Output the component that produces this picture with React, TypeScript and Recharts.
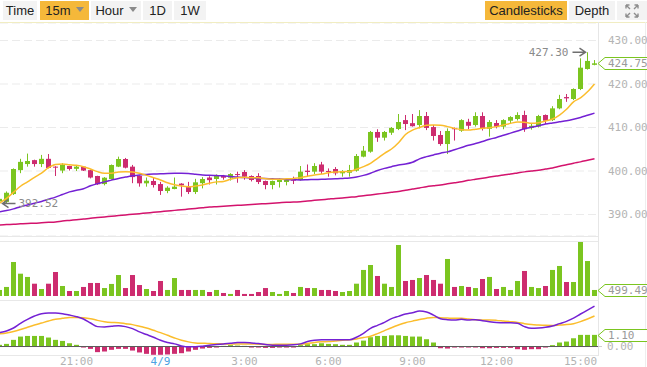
import React from 'react';
import {
  ComposedChart,
  Bar,
  Line,
  XAxis,
  YAxis,
  CartesianGrid,
  ReferenceLine,
  ReferenceDot,
} from 'recharts';

const GREEN = '#7bc520';
const RED = '#cd2c6f';
const FAST_COLOR = '#fbbd2c';
const MID_COLOR = '#7421d4';
const SLOW_COLOR = '#d3136d';
const MONO = '"DejaVu Sans Mono", monospace';

// 15m candles, 18:15 -> 15:30
const OPEN = [393.0, 392.9, 394.7, 400.2, 401.6, 402.5, 401.6, 402.8, 401.0, 400.1,
  401.15, 400.5, 401.0, 400.2, 398.85, 397.0, 398.16, 401.0, 402.76, 401.0,
  398.85, 397.17, 397.7, 397.0, 395.4, 395.86, 397.1, 396.3, 395.17, 397.2,
  398.5, 398.16, 398.85, 398.46, 399.3, 399.77, 398.85, 398.85, 397.7, 396.78,
  397.47, 397.47, 398.16, 397.93, 400.07, 399.85, 401.5, 400.0, 400.46, 399.47,
  399.6, 400.07, 403.3, 404.44, 408.97, 407.66, 408.8, 409.66, 411.7, 411.0,
  410.57, 412.64, 410.1, 408.28, 406.2, 409.9, 409.26, 411.3, 410.57, 412.64,
  409.7, 411.03, 410.2, 411.56, 411.95, 412.87, 409.9, 410.2, 412.87, 411.7,
  414.4, 417.0, 416.55, 418.85, 423.45, 424.4];
const HIGH = [394.2, 395.3, 400.6, 402.8, 404.0, 402.6, 403.7, 403.9, 401.1, 401.8,
  401.2, 401.3, 401.1, 400.3, 398.9, 398.6, 401.5, 403.3, 403.0, 401.4,
  399.0, 398.5, 398.46, 397.5, 396.5, 398.5, 397.2, 397.5, 398.2, 398.6,
  398.8, 399.2, 399.1, 399.5, 399.85, 400.2, 399.0, 399.5, 397.8, 397.8,
  398.3, 398.3, 398.7, 401.15, 401.5, 401.8, 402.1, 400.6, 400.9, 400.2,
  401.4, 403.9, 405.75, 409.2, 409.6, 409.2, 410.1, 413.1, 412.87, 413.1,
  414.0, 413.56, 410.57, 409.2, 409.8, 410.0, 411.9, 412.0, 413.5, 413.5,
  411.7, 411.7, 411.9, 412.6, 413.5, 413.86, 410.9, 412.9, 413.0, 414.9,
  417.5, 417.7, 419.0, 425.9, 427.3, 425.5];
const LOW = [392.52, 392.6, 394.5, 399.5, 401.0, 401.0, 400.9, 400.6, 398.85, 399.5,
  400.1, 400.0, 400.0, 398.3, 396.8, 396.7, 398.0, 400.9, 400.6, 397.2,
  396.4, 396.4, 396.2, 394.5, 394.9, 395.8, 394.1, 394.7, 394.7, 396.0,
  396.9, 396.9, 398.0, 397.8, 397.3, 398.0, 397.6, 397.0, 395.8, 395.8,
  396.2, 396.7, 397.0, 397.8, 398.85, 399.3, 399.3, 398.7, 399.0, 398.7,
  398.7, 399.85, 403.15, 404.2, 406.7, 407.0, 408.3, 409.4, 409.4, 410.2,
  409.8, 409.4, 407.0, 405.8, 403.9, 407.0, 409.0, 409.6, 410.2, 409.3,
  407.9, 409.8, 409.6, 410.8, 411.6, 409.0, 409.5, 410.0, 410.8, 411.5,
  414.2, 415.9, 416.3, 418.6, 423.3, 424.3];
const CLOSE = [393.6, 395.0, 400.46, 402.1, 402.3, 401.6, 402.8, 400.7, 400.9, 401.4,
  400.46, 401.0, 400.1, 398.5, 396.95, 398.46, 401.38, 402.76, 400.76, 398.6,
  397.17, 397.77, 396.78, 395.4, 396.16, 396.4, 396.7, 395.17, 397.4, 398.16,
  397.9, 398.85, 398.46, 399.3, 399.08, 398.7, 397.93, 397.47, 396.78, 397.7,
  398.16, 398.16, 397.77, 399.85, 399.77, 401.15, 399.85, 399.85, 399.47, 400.0,
  400.23, 403.45, 404.67, 408.97, 407.66, 408.97, 409.9, 411.26, 410.8, 410.3,
  412.64, 409.9, 408.05, 406.2, 409.2, 409.6, 411.7, 410.4, 412.64, 409.7,
  411.26, 410.2, 411.7, 412.4, 412.87, 409.6, 410.4, 412.64, 411.56, 414.4,
  416.55, 416.7, 418.85, 423.75, 425.3, 424.75];
const VOLUME = [500, 750, 2820, 1850, 1580, 1020, 580, 1020, 1990, 830,
  415, 415, 750, 1080, 1080, 660, 1000, 1740, 660, 1740,
  910, 580, 415, 1245, 500, 1490, 500, 500, 500, 500,
  330, 500, 250, 170, 500, 170, 170, 330, 660, 330,
  170, 415, 250, 750, 660, 660, 500, 500, 415, 330,
  415, 1020, 2160, 2570, 1660, 1020, 750, 4230, 1245, 1330,
  1490, 1740, 1330, 1020, 3070, 750, 830, 750, 660, 1410,
  1580, 580, 750, 500, 1245, 2075, 750, 660, 830, 2160,
  2490, 1160, 1160, 4477.78, 2900, 499.49];
const MA_FAST = [392.6, 393.7, 395.1, 396.5, 397.5, 398.55, 399.5, 400.77, 401.5, 401.6,
  401.45, 401.3, 401.0, 400.46, 399.85, 399.5, 399.5, 399.77, 399.85, 399.77,
  399.47, 399.0, 398.46, 397.93, 397.3, 396.86, 396.55, 396.4, 396.55, 396.8,
  397.2, 397.5, 397.6, 398.1, 398.46, 398.55, 398.46, 398.46, 398.2, 398.1,
  398.1, 398.2, 398.3, 398.46, 398.8, 399.1, 399.3, 399.6, 399.77, 399.85,
  399.9, 400.4, 401.0, 401.76, 402.9, 404.07, 405.06, 406.5, 408.4, 409.4,
  410.0, 410.5, 410.57, 410.5, 410.2, 409.8, 409.5, 409.4, 409.6, 409.8,
  409.95, 410.2, 410.57, 410.95, 411.26, 411.2, 410.95, 411.1, 411.5, 411.95,
  412.87, 414.2, 415.9, 416.8, 418.2, 420.0];
const MA_MID = [390.6, 390.9, 391.3, 391.8, 392.2, 392.6, 393.0, 393.5, 394.0, 394.6,
  395.2, 395.6, 395.9, 396.6, 397.1, 397.5, 397.9, 398.3, 398.6, 398.9,
  399.1, 399.2, 399.3, 399.35, 399.45, 399.47, 399.47, 399.4, 399.25, 399.1,
  399.0, 398.95, 398.9, 398.75, 398.6, 398.5, 398.4, 398.3, 398.25, 398.2,
  398.15, 398.05, 398.0, 397.95, 398.0, 398.05, 398.1, 398.15, 398.2, 398.3,
  398.4, 398.6, 399.0, 399.5, 400.1, 400.6, 401.0, 401.4, 401.6, 402.0,
  402.8, 403.3, 403.7, 404.1, 404.4, 404.9, 405.4, 405.9, 406.3, 406.8,
  407.3, 407.7, 408.2, 408.7, 409.2, 409.7, 410.05, 410.4, 410.8, 411.05,
  411.3, 411.55, 411.9, 412.3, 412.8, 413.3];
const MA_SLOW = [387.6, 387.7, 387.75, 387.85, 387.95, 388.0, 388.1, 388.2, 388.3, 388.5,
  388.65, 388.8, 388.95, 389.15, 389.3, 389.45, 389.6, 389.75, 389.9, 390.05,
  390.2, 390.35, 390.5, 390.65, 390.8, 390.95, 391.1, 391.25, 391.4, 391.55,
  391.7, 391.8, 391.9, 392.0, 392.1, 392.2, 392.3, 392.4, 392.5, 392.6,
  392.7, 392.8, 392.85, 392.95, 393.1, 393.25, 393.4, 393.55, 393.7, 393.8,
  393.95, 394.1, 394.3, 394.5, 394.7, 394.9, 395.1, 395.3, 395.6, 395.85,
  396.1, 396.4, 396.6, 396.8, 397.05, 397.3, 397.55, 397.85, 398.1, 398.35,
  398.6, 398.85, 399.1, 399.3, 399.55, 399.8, 400.0, 400.2, 400.45, 400.7,
  401.1, 401.45, 401.8, 402.1, 402.45, 402.8];
const DIF = [1.31, 1.47, 1.75, 2.19, 2.57, 2.88, 3.10, 3.16, 3.16, 3.10,
  2.97, 2.82, 2.60, 2.22, 1.88, 1.85, 1.91, 1.97, 1.88, 1.69,
  1.38, 1.13, 0.88, 0.59, 0.38, 0.25, 0.06, -0.03, -0.03, 0.03,
  0.13, 0.19, 0.25, 0.31, 0.38, 0.38, 0.34, 0.28, 0.19, 0.13,
  0.13, 0.13, 0.16, 0.25, 0.47, 0.59, 0.63, 0.63, 0.63, 0.63,
  0.63, 0.88, 1.25, 1.72, 2.00, 2.28, 2.63, 2.85, 3.07, 3.19,
  3.35, 3.26, 2.97, 2.63, 2.54, 2.50, 2.57, 2.50, 2.54, 2.44,
  2.35, 2.28, 2.25, 2.25, 2.19, 1.88, 1.72, 1.75, 1.82, 1.94,
  2.16, 2.38, 2.69, 3.07, 3.44, 3.82];
const DEA = [1.19, 1.28, 1.41, 1.60, 1.82, 2.03, 2.22, 2.41, 2.57, 2.66,
  2.75, 2.75, 2.72, 2.63, 2.47, 2.35, 2.28, 2.25, 2.16, 2.07,
  1.91, 1.75, 1.53, 1.31, 1.06, 0.81, 0.59, 0.44, 0.34, 0.31,
  0.28, 0.27, 0.25, 0.25, 0.25, 0.25, 0.25, 0.22, 0.19, 0.19,
  0.22, 0.22, 0.22, 0.22, 0.28, 0.38, 0.44, 0.47, 0.53, 0.59,
  0.63, 0.72, 0.85, 0.97, 1.22, 1.50, 1.78, 2.03, 2.25, 2.40,
  2.55, 2.68, 2.75, 2.72, 2.69, 2.66, 2.66, 2.60, 2.54, 2.50,
  2.50, 2.47, 2.41, 2.35, 2.28, 2.16, 2.07, 2.03, 2.00, 1.99,
  2.03, 2.07, 2.16, 2.35, 2.60, 2.88];
const HIST = [0.16, 0.25, 0.63, 0.94, 1.00, 1.00, 1.00, 0.85, 0.63, 0.53,
  0.31, 0.16, -0.06, -0.22, -0.53, -0.47, -0.31, -0.22, -0.22, -0.38,
  -0.56, -0.69, -0.78, -0.78, -0.75, -0.69, -0.63, -0.47, -0.31, -0.19,
  -0.13, -0.06, 0.06, 0.13, 0.09, 0.06, -0.06, -0.09, -0.13, -0.13,
  -0.09, -0.09, -0.06, 0.13, 0.22, 0.22, 0.31, 0.25, 0.22, 0.16,
  0.16, 0.38, 0.56, 0.88, 1.00, 1.00, 1.06, 1.06, 1.00, 0.94,
  0.94, 0.69, 0.38, -0.16, -0.19, -0.09, -0.09, -0.06, -0.09, -0.16,
  -0.16, -0.13, -0.13, -0.13, -0.25, -0.31, -0.25, -0.25, -0.06, 0.13,
  0.38, 0.47, 0.78, 1.10, 1.10, 1.10];

const TIME_TICKS = [11, 23, 35, 47, 59, 71, 83];
const TIME_LABELS = ['21:00', '4/9', '3:00', '6:00', '9:00', '12:00', '15:00'];
const PRICE_TICKS = [390, 400, 410, 420, 430];
const PRICE_DOMAIN = [385.06, 434.02];
const VOL_MAX = 4477.78;
const MACD_DOMAIN = [-0.8, 4.3];
const X_DOMAIN = [0.5 / 7, 85.5];

const rows = OPEN.map((open, i) => ({
  i,
  open,
  high: HIGH[i],
  low: LOW[i],
  close: CLOSE[i],
  vol: VOLUME[i],
  fast: MA_FAST[i],
  mid: MA_MID[i],
  slow: MA_SLOW[i],
  dif: DIF[i],
  dea: DEA[i],
  hist: HIST[i],
}));

const last = rows[rows.length - 1];
const hiIdx = HIGH.indexOf(Math.max(...HIGH));
const loIdx = LOW.indexOf(Math.min(...LOW));

const snap = (c: number) => Math.round(c - 0.5) + 0.5;

const Candle = (p: any) => {
  const { x, y, width, height, payload } = p;
  if (!payload) return null;
  const { open, close, high, low } = payload;
  const color = close >= open ? GREEN : RED;
  const top = Math.min(y, y + height);
  const h = Math.abs(height);
  const ppu = high > low ? h / (high - low) : 0;
  const bTop = top + (high - Math.max(open, close)) * ppu;
  const bBot = top + (high - Math.min(open, close)) * ppu;
  const cx = snap(x + width / 2);
  return (
    <g>
      <line x1={cx} x2={cx} y1={top} y2={top + h} stroke={color} strokeWidth={1} />
      <rect x={cx - 2.5} y={bTop} width={5} height={Math.max(1, bBot - bTop)} fill={color} />
    </g>
  );
};

const VolBar = (p: any) => {
  const cx = snap(p.x + p.width / 2);
  const top = Math.min(p.y, p.y + p.height);
  const up = p.payload.close >= p.payload.open;
  return <rect x={cx - 2.5} y={top} width={5} height={Math.abs(p.height)} fill={up ? GREEN : RED} />;
};

const HistBar = (p: any) => {
  const cx = snap(p.x + p.width / 2);
  const top = Math.min(p.y, p.y + p.height);
  return (
    <rect x={cx - 2.5} y={top} width={5} height={Math.max(1, Math.abs(p.height))}
      fill={p.payload.hist >= 0 ? GREEN : RED} />
  );
};

const valueBox = (label: string) => (p: any) => {
  const edge = p.cx + 3.5;
  const cy = Math.round(p.cy) + 0.5;
  return (
    <g>
      <path d={`M${edge},${cy} L${edge + 7},${cy - 6} H${edge + 60} V${cy + 6} H${edge + 7} Z`}
        fill="#fff" stroke={GREEN} strokeWidth={1} />
      <text x={edge + 10} y={cy} dominantBaseline="central" fill="#9a9a9a" fontFamily={MONO} fontSize={11}>
        {label}
      </text>
    </g>
  );
};

const MinMark = (p: any) => {
  const x0 = p.cx + 3;
  const y = p.cy;
  return (
    <g>
      <path d={`M${x0 + 13},${y} H${x0} M${x0 + 6},${y - 4} L${x0},${y} L${x0 + 6},${y + 4}`}
        stroke="#6f6f6f" strokeWidth={1.5} fill="none" />
      <text x={x0 + 16} y={y} dominantBaseline="central" fill="#8a8a8a" fontFamily={MONO} fontSize={11}>
        {LOW[loIdx].toFixed(2)}
      </text>
    </g>
  );
};

const MaxMark = (p: any) => {
  const x0 = p.cx - 2;
  const y = p.cy;
  return (
    <g>
      <path d={`M${x0 - 13},${y} H${x0} M${x0 - 6},${y - 4} L${x0},${y} L${x0 - 6},${y + 4}`}
        stroke="#6f6f6f" strokeWidth={1.5} fill="none" />
      <text x={x0 - 17} y={y} dominantBaseline="central" textAnchor="end" fill="#8a8a8a" fontFamily={MONO} fontSize={11}>
        {HIGH[hiIdx].toFixed(2)}
      </text>
    </g>
  );
};

const TimeTick = (p: any) => {
  const label = TIME_LABELS[TIME_TICKS.indexOf(p.payload.value)];
  return (
    <text x={p.x} y={p.y} dy="0.71em" textAnchor="middle" fill={label === '4/9' ? '#4ba3e3' : '#b3b3b3'}
      fontFamily={MONO} fontSize={11}>
      {label}
    </text>
  );
};

const Caret = () => (
  <svg width={8} height={5} style={{ marginLeft: 5, marginBottom: 2 }}>
    <path d="M0,0 L8,0 L4,5 Z" fill="#8a8a8a" />
  </svg>
);

const buttons = [
  { label: 'Time', left: 3, width: 34, caret: false, active: false },
  { label: '15m', left: 40, width: 49, caret: true, active: true },
  { label: 'Hour', left: 91, width: 50, caret: true, active: false },
  { label: '1D', left: 143, width: 29, caret: false, active: false },
  { label: '1W', left: 174, width: 32, caret: false, active: false },
  { label: 'Candlesticks', left: 485, width: 82, caret: false, active: true },
  { label: 'Depth', left: 569, width: 46, caret: false, active: false },
];

const hLine = (top: number, left: number, width: number, color = '#e8e8e8') => (
  <div style={{ position: 'absolute', top, left, width, height: 1, background: color }} />
);

const vLine = (left: number, top: number, height: number, color = '#e6e6e6') => (
  <div style={{ position: 'absolute', top, left, width: 1, height, background: color }} />
);

const tickFont = { fontFamily: MONO, fontSize: 11, fill: '#b4b4b4' };

export default function App() {
  return (
    <div style={{ position: 'absolute', left: 0, top: 0, width: 647, height: 367, overflow: 'hidden', background: '#fff' }}>
      {/* toolbar */}
      {buttons.map((b) => (
        <div key={b.label} style={{
          position: 'absolute', top: 1, left: b.left, width: b.width, height: 19,
          background: b.active ? '#f5b83a' : '#f3f3f3', color: '#222',
          fontFamily: '"Liberation Sans", Arial, sans-serif', fontSize: 13,
          display: 'flex', alignItems: 'center', justifyContent: 'center',
        }}>
          {b.label}
          {b.caret && <Caret />}
        </div>
      ))}
      <div style={{ position: 'absolute', top: 1, left: 617, width: 30, height: 19, background: '#f3f3f3',
        display: 'flex', alignItems: 'center', justifyContent: 'center' }}>
        <svg width={14} height={14}>
          <g stroke="#8d8d8d" strokeWidth={1.4} fill="none">
            <path d="M1,1 L5,5 M1,1 H4.5 M1,1 V4.5" />
            <path d="M13,1 L9,5 M13,1 H9.5 M13,1 V4.5" />
            <path d="M1,13 L5,9 M1,13 H4.5 M1,13 V9.5" />
            <path d="M13,13 L9,9 M13,13 H9.5 M13,13 V9.5" />
          </g>
        </svg>
      </div>

      {/* panel frames */}
      {hLine(22, 0, 647, '#f1edc2')}
      {hLine(236, 0, 598)}
      {hLine(241, 0, 598)}
      {hLine(300, 0, 598)}
      {hLine(355, 0, 598)}
      {vLine(598, 22, 334)}
      {vLine(645, 22, 345, '#eeeeee')}

      {/* price panel */}
      <div style={{ position: 'absolute', top: 23, left: 0 }}>
        <ComposedChart width={647} height={213} data={rows} margin={{ top: 0, right: 0, bottom: 0, left: 0 }}>
          <CartesianGrid vertical={false} stroke="#ebebeb" strokeDasharray="8 4" />
          <XAxis type="number" dataKey="i" domain={X_DOMAIN} allowDataOverflow hide />
          <YAxis orientation="right" width={49} domain={PRICE_DOMAIN} allowDataOverflow ticks={PRICE_TICKS}
            tick={tickFont} tickFormatter={(v: number) => v.toFixed(2)} tickLine={false} tickSize={0}
            tickMargin={10} axisLine={false} />
          <Bar dataKey={(d: any) => [d.low, d.high]} barSize={5} shape={(p: any) => <Candle {...p} />}
            isAnimationActive={false} />
          <Line dataKey="slow" type="monotone" stroke={SLOW_COLOR} strokeWidth={1.5} dot={false} activeDot={false} isAnimationActive={false} />
          <Line dataKey="mid" type="monotone" stroke={MID_COLOR} strokeWidth={1.5} dot={false} activeDot={false} isAnimationActive={false} />
          <Line dataKey="fast" type="monotone" stroke={FAST_COLOR} strokeWidth={1.5} dot={false} activeDot={false} isAnimationActive={false} />
          <ReferenceDot x={loIdx} y={LOW[loIdx]} ifOverflow="visible" shape={(p: any) => <MinMark {...p} />} />
          <ReferenceDot x={hiIdx} y={HIGH[hiIdx]} ifOverflow="visible" shape={(p: any) => <MaxMark {...p} />} />
          <ReferenceDot x={last.i} y={last.close} ifOverflow="visible" shape={valueBox(last.close.toFixed(2))} />
        </ComposedChart>
      </div>

      {/* volume panel */}
      <div style={{ position: 'absolute', top: 236, left: 0 }}>
        <ComposedChart width={647} height={62} data={rows} margin={{ top: 6, right: 0, bottom: 2, left: 0 }}>
          <XAxis type="number" dataKey="i" domain={X_DOMAIN} allowDataOverflow hide />
          <YAxis orientation="right" width={49} domain={[0, VOL_MAX]} allowDataOverflow ticks={[VOL_MAX]}
            tick={tickFont} tickFormatter={(v: number) => v.toFixed(2)} tickLine={{ stroke: '#cfcfcf' }}
            tickSize={4} tickMargin={5} axisLine={false} />
          <Bar dataKey="vol" barSize={5} shape={(p: any) => <VolBar {...p} />} isAnimationActive={false} />
          <ReferenceDot x={last.i} y={last.vol} ifOverflow="visible" shape={valueBox(last.vol.toFixed(2))} />
        </ComposedChart>
      </div>

      {/* MACD panel */}
      <div style={{ position: 'absolute', top: 295, left: 0 }}>
        <ComposedChart width={647} height={72} data={rows} margin={{ top: 6, right: 0, bottom: 0, left: 0 }}>
          <XAxis type="number" dataKey="i" domain={X_DOMAIN} allowDataOverflow ticks={TIME_TICKS} interval={0}
            height={12} tickLine={false} tickSize={0} tickMargin={2} axisLine={false} tick={(p: any) => <TimeTick {...p} />} />
          <YAxis orientation="right" width={49} domain={MACD_DOMAIN} allowDataOverflow ticks={[0]}
            tick={tickFont} tickFormatter={(v: number) => v.toFixed(2)} tickLine={{ stroke: '#cfcfcf' }}
            tickSize={4} tickMargin={5} axisLine={false} />
          <ReferenceLine y={0} stroke="#5a5a5a" strokeWidth={1} />
          <Bar dataKey="hist" barSize={5} shape={(p: any) => <HistBar {...p} />} isAnimationActive={false} />
          <Line dataKey="dea" type="monotone" stroke={FAST_COLOR} strokeWidth={1.5} dot={false} activeDot={false} isAnimationActive={false} />
          <Line dataKey="dif" type="monotone" stroke={MID_COLOR} strokeWidth={1.5} dot={false} activeDot={false} isAnimationActive={false} />
          <ReferenceDot x={last.i} y={last.hist} ifOverflow="visible" shape={valueBox(last.hist.toFixed(2))} />
        </ComposedChart>
      </div>
    </div>
  );
}
